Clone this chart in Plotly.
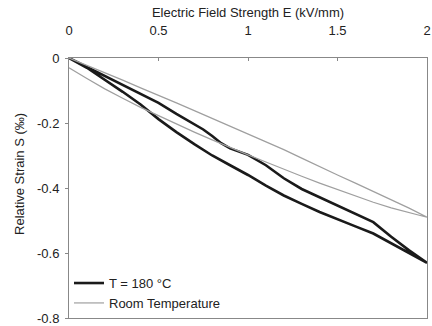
import plotly.graph_objects as go

# T = 180 °C hysteresis loop (field up, then field down)
hot_up_E = [0, 0.1, 0.2, 0.3, 0.4, 0.5, 0.6, 0.7, 0.75, 0.8, 0.85, 0.9, 1.0, 1.1, 1.2, 1.3, 1.4, 1.5, 1.6, 1.7, 1.8, 1.9, 2.0]
hot_up_S = [0, -0.028, -0.055, -0.082, -0.11, -0.138, -0.172, -0.205, -0.22, -0.24, -0.262, -0.278, -0.298, -0.33, -0.37, -0.403, -0.428, -0.454, -0.48, -0.505, -0.55, -0.592, -0.63]
hot_dn_E = [2.0, 1.9, 1.8, 1.7, 1.6, 1.5, 1.4, 1.3, 1.2, 1.1, 1.0, 0.9, 0.8, 0.7, 0.6, 0.5, 0.4, 0.3, 0.2, 0.1, 0]
hot_dn_S = [-0.63, -0.6, -0.568, -0.54, -0.518, -0.497, -0.474, -0.449, -0.423, -0.393, -0.36, -0.33, -0.3, -0.265, -0.228, -0.188, -0.143, -0.104, -0.066, -0.03, 0]

# Room temperature loop
room_up_E = [0, 0.1, 0.2, 0.3, 0.4, 0.5, 0.6, 0.7, 0.8, 0.9, 1.0, 1.1, 1.2, 1.3, 1.4, 1.5, 1.6, 1.7, 1.8, 1.9, 2.0]
room_up_S = [0, -0.022, -0.045, -0.068, -0.092, -0.114, -0.138, -0.162, -0.186, -0.209, -0.233, -0.257, -0.282, -0.308, -0.335, -0.36, -0.385, -0.41, -0.435, -0.462, -0.49]
room_dn_E = [2.0, 1.9, 1.8, 1.7, 1.6, 1.5, 1.4, 1.3, 1.2, 1.1, 1.0, 0.9, 0.8, 0.7, 0.6, 0.5, 0.4, 0.3, 0.2, 0.1, 0]
room_dn_S = [-0.49, -0.476, -0.461, -0.444, -0.425, -0.405, -0.385, -0.364, -0.343, -0.32, -0.298, -0.276, -0.252, -0.228, -0.203, -0.178, -0.152, -0.124, -0.095, -0.063, -0.03]

x_ticks = [0, 0.5, 1, 1.5, 2]
x_tick_labels = ["0", "0.5", "1", "1.5", "2"]
y_ticks = [0, -0.2, -0.4, -0.6, -0.8]
y_tick_labels = ["0", "-0.2", "-0.4", "-0.6", "-0.8"]

FONT = "Liberation Sans, Arial, sans-serif"
FS = 13

fig = go.Figure()
fig.add_trace(go.Scatter(
    x=hot_up_E + hot_dn_E, y=hot_up_S + hot_dn_S, mode="lines",
    name="T = 180 °C", line=dict(color="#1a1a1a", width=2.6)))
fig.add_trace(go.Scatter(
    x=room_up_E + room_dn_E, y=room_up_S + room_dn_S, mode="lines",
    name="Room Temperature", line=dict(color="#9f9f9f", width=1.2)))

fig.update_layout(
    width=432, height=326,
    margin=dict(l=69, r=5, t=58, b=8, autoexpand=False),
    paper_bgcolor="white", plot_bgcolor="white",
    font=dict(family=FONT, size=FS, color="#222"),
    showlegend=True,
    legend=dict(x=0.0, y=0.192, xanchor="left", yanchor="top",
                bgcolor="rgba(0,0,0,0)", font=dict(size=FS, color="#222"),
                itemwidth=30, tracegroupgap=0),
    xaxis=dict(side="top", range=[0, 2], tickvals=x_ticks, ticktext=x_tick_labels,
               showgrid=False, zeroline=False, showline=True, linecolor="#888",
               linewidth=1, mirror=True, ticks="inside", ticklen=3, tickcolor="#888",
               ticklabelstandoff=17, ticklabeloverflow="allow", automargin=False,
               title=dict(text="Electric Field Strength E (kV/mm)", standoff=2,
                          font=dict(size=FS))),
    yaxis=dict(range=[-0.8, 0], tickvals=y_ticks, ticktext=y_tick_labels,
               showgrid=False, zeroline=False, showline=True, linecolor="#888",
               linewidth=1, mirror=True, ticks="outside", ticklen=3, tickcolor="#888",
               ticklabelstandoff=3, ticklabeloverflow="allow", automargin=False),
    annotations=[dict(text="Relative Strain S (‰)", xref="paper", yref="paper",
                      x=(20 - 69) / 358, y=0.554, xanchor="center", yanchor="middle",
                      textangle=-90, showarrow=False,
                      font=dict(size=FS, color="#222"))],
)

fig.write_html("out.html",
               config={"displayModeBar": False},
               post_script="document.body.style.margin='0';"
                           "document.body.style.overflow='hidden';")
